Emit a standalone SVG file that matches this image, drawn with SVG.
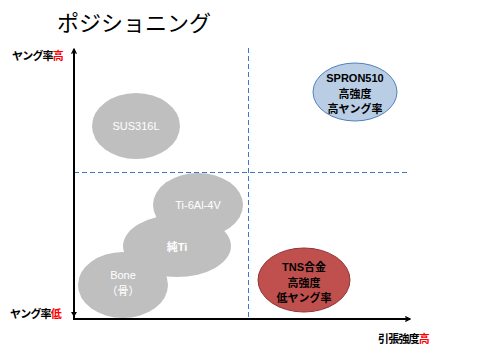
<svg xmlns="http://www.w3.org/2000/svg" width="480" height="360" viewBox="0 0 480 360">
<style>
text{font-family:"Liberation Sans","Noto Sans CJK JP",sans-serif;}
.lab{font-size:11px;font-weight:bold;fill:#000;letter-spacing:-0.8px;}
.red{fill:#ff0000;}
.grey{fill:#bfbfbf;}
.wt{font-size:11px;fill:#ffffff;text-anchor:middle;}
.bt{font-size:11px;font-weight:bold;fill:#000;text-anchor:middle;}
.dash{stroke:#3a78c8;stroke-width:1;stroke-dasharray:5,3;fill:none;}
.axis{stroke:#000;stroke-width:2;fill:none;}
</style>
<defs>
<marker id="ah" viewBox="0 0 10 10" refX="9" refY="5" markerWidth="6" markerHeight="6" orient="auto" markerUnits="userSpaceOnUse">
<path d="M1,1 L9,5 L1,9" fill="none" stroke="#000" stroke-width="2"/>
</marker>
</defs>
<rect width="480" height="360" fill="#fff"/>
<text x="134" y="31" font-size="22" text-anchor="middle" style="font-family:'Noto Sans CJK JP',sans-serif">ポジショニング</text>
<g id="connectors">
<line class="dash" x1="248.5" y1="48" x2="248.5" y2="320"/>
<line class="dash" x1="74" y1="172.5" x2="410" y2="172.5"/>
<line class="axis" x1="74" y1="319" x2="74" y2="49" marker-end="url(#ah)"/>
<line class="axis" x1="73" y1="319" x2="410" y2="319" marker-end="url(#ah)"/>
<path d="M71,312 L77,312 L74,317 Z" fill="#000"/>
</g>
<g id="axis-labels">
<text class="lab" x="12" y="60">ヤング率<tspan class="red">高</tspan></text>
<text class="lab" x="10" y="318">ヤング率<tspan class="red">低</tspan></text>
<text class="lab" x="378" y="343">引張強度<tspan class="red">高</tspan></text>
</g>
<g id="sus316l">
<ellipse class="grey" cx="136" cy="126" rx="44" ry="33"/>
<text class="wt" x="136" y="130">SUS316L</text>
</g>
<g id="bone">
<ellipse class="grey" cx="123" cy="285" rx="45" ry="33"/>
<text class="wt" x="123" y="279">Bone</text>
<text class="wt" x="123" y="295">（骨）</text>
</g>
<g id="ti64">
<ellipse class="grey" cx="198" cy="205" rx="45" ry="32"/>
<text class="wt" x="198" y="209">Ti-6Al-4V</text>
</g>
<g id="pureti">
<ellipse class="grey" cx="177" cy="246" rx="54" ry="31"/>
<text class="wt" x="177" y="251" font-weight="bold">純Ti</text>
</g>
<g id="spron510">
<ellipse cx="355" cy="92" rx="42" ry="29" fill="#b9cde5" stroke="#4f81bd" stroke-width="1"/>
<text class="bt" x="355" y="82">SPRON510</text>
<text class="bt" x="355" y="98">高強度</text>
<text class="bt" x="355" y="113">高ヤング率</text>
</g>
<g id="tns">
<ellipse cx="304" cy="280" rx="46" ry="32" fill="#c0504d" stroke="#8c3836" stroke-width="1"/>
<text class="bt" x="304" y="271">TNS合金</text>
<text class="bt" x="304" y="287">高強度</text>
<text class="bt" x="304" y="302">低ヤング率</text>
</g>
</svg>
